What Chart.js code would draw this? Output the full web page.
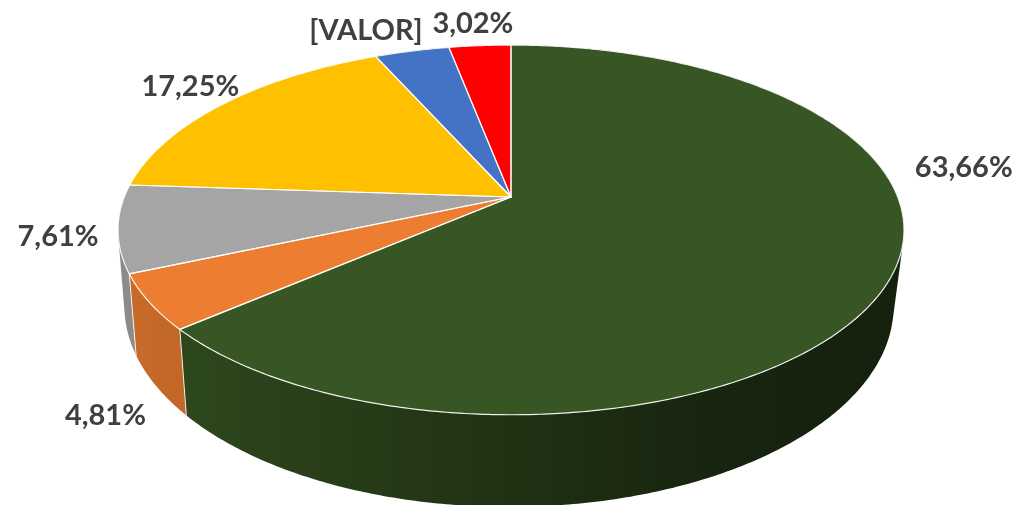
<!DOCTYPE html>
<html>
<head>
<meta charset="utf-8">
<title>Pie 3D</title>
<script src="https://cdn.jsdelivr.net/npm/chart.js@4"></script>
<style>
  html, body { margin: 0; padding: 0; background: #fff; overflow: hidden; }
  canvas { display: block; }
</style>
</head>
<body>
<canvas id="pie3d" width="1015" height="505"></canvas>
<script>
// 数据
const sliceNames = ['A', 'B', 'C', 'D', 'E', 'F'];
const sliceValues = [63.66, 4.81, 7.61, 17.25, 3.65, 3.02];
const sliceLabels = ['63,66%', '4,81%', '7,61%', '17,25%', '[VALOR]', '3,02%'];
const sliceColors = ['#375623', '#ED7D31', '#A5A5A5', '#FFC000', '#4472C4', '#FF0000'];

// label offset from the middle of each slice's rim
const labelOffsets = [[73, -110], [-44, 113], [-60, 8], [-33, -17], [-46, -20], [-7, -22]];

// perspective of the top and bottom disc
const topDisc = { x: 511, y: 197, a: 386.7, b: 179, k: 0.178 };
const bottomDisc = { x: 509, y: 272, a: 379, b: 195, k: 0.17 };

function project(disc, angle) {
  const u = Math.cos(angle);
  const v = Math.sin(angle);
  const w = 1 - disc.k * v;
  return [disc.x + disc.a * u / w, disc.y + disc.b * v / w];
}

function rimPoints(disc, start, end) {
  const steps = Math.max(2, Math.ceil((end - start) / 0.01));
  const pts = [];
  for (let i = 0; i <= steps; i++) {
    pts.push(project(disc, start + (end - start) * i / steps));
  }
  return pts;
}

function addPolygon(ctx, pts) {
  pts.forEach((p, i) => (i ? ctx.lineTo(p[0], p[1]) : ctx.moveTo(p[0], p[1])));
  ctx.closePath();
}

function tracePolygon(ctx, pts) {
  ctx.beginPath();
  addPolygon(ctx, pts);
}

function signedArea(pts) {
  let sum = 0;
  pts.forEach((p, i) => {
    const q = pts[(i + 1) % pts.length];
    sum += p[0] * q[1] - q[0] * p[1];
  });
  return sum;
}

// side wall gets darker from left to right
function sideGradient(ctx, hex) {
  const r = parseInt(hex.slice(1, 3), 16);
  const g = parseInt(hex.slice(3, 5), 16);
  const b = parseInt(hex.slice(5, 7), 16);
  const shade = f => `rgb(${Math.round(r * f)},${Math.round(g * f)},${Math.round(b * f)})`;
  const grad = ctx.createLinearGradient(120, 0, 900, 0);
  grad.addColorStop(0, shade(0.85));
  grad.addColorStop(0.08, shade(0.82));
  grad.addColorStop(0.49, shade(0.58));
  grad.addColorStop(0.77, shade(0.42));
  grad.addColorStop(1, shade(0.38));
  return grad;
}

const pie3dPlugin = {
  id: 'pie3d',
  beforeDatasetsDraw(chart) {
    const ctx = chart.ctx;
    const arcs = chart.getDatasetMeta(0).data;
    ctx.save();

    // side walls, back slices first. quads all wound the same way and filled as one path,
    // so the outline follows the tangent and there are no seams
    for (let i = arcs.length - 1; i >= 0; i--) {
      const arc = arcs[i];
      const upper = rimPoints(topDisc, arc.startAngle, arc.endAngle);
      const lower = rimPoints(bottomDisc, arc.startAngle, arc.endAngle);
      ctx.beginPath();
      for (let s = 0; s < upper.length - 1; s++) {
        const quad = [upper[s], upper[s + 1], lower[s + 1], lower[s]];
        addPolygon(ctx, signedArea(quad) < 0 ? quad.reverse() : quad);
      }
      ctx.fillStyle = sideGradient(ctx, sliceColors[i]);
      ctx.fill();
    }

    // white edges where two walls meet at the front
    ctx.strokeStyle = 'rgba(255,255,255,0.85)';
    ctx.lineWidth = 1;
    arcs.forEach(arc => {
      if (Math.sin(arc.endAngle) > 0.2 && Math.cos(arc.endAngle) < 0) {
        const a = project(topDisc, arc.endAngle);
        const b = project(bottomDisc, arc.endAngle);
        ctx.beginPath();
        ctx.moveTo(a[0], a[1]);
        ctx.lineTo(b[0], b[1]);
        ctx.stroke();
      }
    });

    // top faces
    arcs.forEach((arc, i) => {
      const pts = [[topDisc.x, topDisc.y]].concat(rimPoints(topDisc, arc.startAngle, arc.endAngle));
      tracePolygon(ctx, pts);
      ctx.fillStyle = sliceColors[i];
      ctx.fill();
    });
    arcs.forEach(arc => {
      const pts = [[topDisc.x, topDisc.y]].concat(rimPoints(topDisc, arc.startAngle, arc.endAngle));
      tracePolygon(ctx, pts);
      ctx.strokeStyle = 'rgba(255,255,255,0.9)';
      ctx.lineWidth = 1.2;
      ctx.lineJoin = 'round';
      ctx.stroke();
    });

    // labels
    ctx.font = 'bold 29px Lato, "Open Sans", sans-serif';
    ctx.fillStyle = '#404040';
    ctx.textAlign = 'center';
    ctx.textBaseline = 'middle';
    arcs.forEach((arc, i) => {
      const rim = project(topDisc, (arc.startAngle + arc.endAngle) / 2);
      ctx.fillText(sliceLabels[i], rim[0] + labelOffsets[i][0], rim[1] + labelOffsets[i][1]);
    });

    ctx.restore();
    return false; // replaces the flat pie
  }
};

new Chart(document.getElementById('pie3d'), {
  type: 'pie',
  data: {
    labels: sliceNames,
    datasets: [{ data: sliceValues, backgroundColor: sliceColors }]
  },
  options: {
    responsive: false,
    animation: false,
    plugins: {
      legend: { display: false },
      tooltip: { enabled: false }
    }
  },
  plugins: [pie3dPlugin]
});
</script>
</body>
</html>
